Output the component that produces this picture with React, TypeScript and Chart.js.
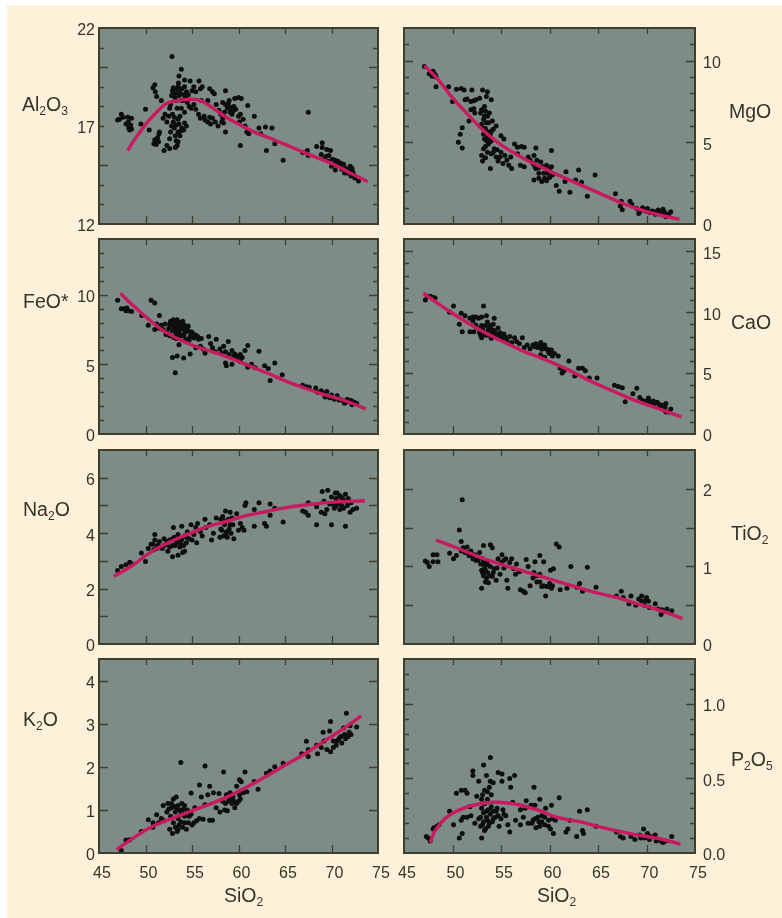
import React, { useEffect, useRef } from "react";
import { Chart, registerables } from "chart.js";

Chart.register(...registerables);

type P = number[];

const xTicks = [45, 50, 55, 60, 65, 70, 75];

const al2o3Points: P[] = [[47,17.3],[47.2,17.35],[47.4,17.6],[47.6,17.45],[47.9,17.1],[48.1,17.45],[48.15,17.2],[48.2,16.9],[48.3,16.8],[48.4,17.05],[48.5,17.4],[48.5,16.85],[49.5,17.1],[50,17.85],[50.4,16.8],[50.8,18.95],[51,19.1],[51.05,18.75],[51.2,18.5],[51.7,18.3],[50.9,16.1],[51,16.3],[51.15,16.05],[51.3,16.4],[51.45,16.6],[51.1,16.25],[51.4,16.2],[51.5,16.7],[51.9,17.4],[52.1,17.6],[52.3,17.2],[52.3,16],[52,15.75],[52.6,15.85],[52.7,16.7],[52.8,17],[52.5,17.5],[52.6,17.9],[52.7,18.1],[52.9,17.6],[53,17.2],[53.1,16.9],[53.2,16.5],[53.2,15.9],[53.4,16],[53.5,16.2],[53.5,16.7],[53.6,17.1],[53.7,17.5],[53.4,17.9],[53.3,18.3],[52.9,18.8],[53,18.95],[53.2,18.7],[53.4,18.9],[53.5,19],[53.7,18.7],[53.9,18.9],[54.1,18.6],[54.2,19],[53.85,17.9],[54.1,18.3],[54.2,17.7],[53.9,16.9],[54.1,16.8],[54.4,17],[53.7,16.5],[54.4,18.75],[54.5,18.2],[54.7,18],[54.8,19.3],[55,18.8],[55.2,19],[55.4,18.75],[55.75,19.3],[55.9,18.9],[56.1,19],[54.9,17.9],[55.2,18.1],[55.4,17.85],[55.7,17.6],[55.9,17.4],[56,18.3],[56.4,17.3],[56.7,17.2],[57,17.1],[57.2,17.4],[57.5,17.2],[57.8,17],[53.6,19.55],[53.85,19.9],[52.85,20.55],[54.2,19.35],[53.55,19.2],[56.9,18.9],[57.2,18.75],[57.4,18.65],[56.7,18.3],[57.6,18.1],[57.9,17.8],[58.1,17.6],[58.3,17.4],[58.4,17.15],[58.6,16.7],[58.2,17.2],[58.6,18.8],[58.3,18.2],[58.6,18.1],[58.8,17.9],[59,18.3],[59.2,17.95],[59.4,17.75],[59.6,18.4],[60,18.45],[60.3,18.4],[59.3,17.6],[59.7,17.85],[60,17.5],[60.2,17.6],[60.5,17.35],[60.7,17],[60.9,16.7],[61.1,16.6],[61,18.05],[61.7,17.5],[60.2,16],[63,15.75],[64.8,15.25],[67.5,17.7],[62.2,16.9],[62.9,16.95],[63.6,16.9],[62.4,16.6],[63.9,16.1],[66.9,15.65],[67.4,15.75],[67.5,15.5],[68.4,15.95],[69,16.15],[69,15.9],[69.5,15.8],[69.9,15.75],[68.9,15.55],[69.2,15.3],[69.4,15.45],[69.7,15.2],[70,14.95],[70.1,15.3],[70.4,15.25],[70.7,15.2],[71,15.1],[71.3,15.05],[70.6,15],[71.1,14.8],[71.5,14.85],[72,14.95],[72.2,14.85],[72.3,14.65],[72.1,14.45],[72.5,14.35],[72.9,14.2],[71.7,14.6],[70.4,14.75]];
const al2o3Dense: P[] = [[52.8,18.55],[53.15,18.45],[53.6,18.55],[53.9,18.3],[54.3,18.5],[54.6,18.6],[53.1,17.45],[53.3,17.05],[53.5,17.35],[53.8,16.75],[54.2,17.15],[53.3,16.25],[52.6,16.35],[58.9,18.15],[59.1,17.7],[59.5,18],[58.5,17.7],[60.1,17.2],[69.7,15.5],[70.3,15.05],[70.9,15],[71.4,14.6],[71.9,14.75],[72.4,14.5],[56.3,17.5],[56.9,17.45]];
const al2o3Curve: P[] = [[48.1,15.75],[48.6,16.15],[49.2,16.55],[49.8,16.95],[50.4,17.3],[51.3,17.75],[52.2,18.13],[53.4,18.3],[54.7,18.36],[55.7,18.33],[56.5,18.15],[57.6,17.8],[58.5,17.5],[59.4,17.25],[60.6,16.95],[61.9,16.65],[63.3,16.4],[64.8,16.1],[67.3,15.6],[70.2,15.05],[72,14.6],[73.9,14.16]];

const mgoPoints: P[] = [[47.1,9.65],[47.6,9.2],[48,9.35],[48.3,9],[48.3,8.4],[49.6,8.4],[50,7.5],[50.4,8.25],[50.9,8.3],[51.2,8.2],[52,8.2],[53.1,8.2],[53.6,8.1],[51.3,7.6],[51.9,7.5],[52.8,7.7],[53.5,7.8],[54,7.6],[53.3,7.2],[51.9,7],[52.3,6.8],[51.7,6.3],[52.9,6.8],[51,5.9],[50.8,5.5],[50.6,5],[51,4.65],[51.5,7.65],[52.2,7.05],[53,7],[53.4,6.9],[53.6,6.6],[53.2,6.4],[53,6.1],[53.7,6.2],[54.1,6.3],[54.5,6],[53.1,5.9],[53.2,5.5],[53.3,5.2],[53.5,5.7],[53.6,5.3],[53.7,4.9],[53.9,5.5],[54,5.1],[54.2,5.8],[53.2,4.6],[53,4.2],[53.1,3.85],[53.4,4.05],[53.6,4.4],[53.9,3.4],[54,4.3],[54.3,4.6],[54.5,4.1],[54.7,3.85],[55,4.4],[55,5.4],[55.3,5.2],[55.4,4.2],[55.6,3.9],[55.8,3.6],[56.1,3.4],[56,4.1],[56.4,4.9],[56.7,4.7],[57.1,4.75],[57.4,4.7],[56.7,4.3],[57,3.6],[57.4,3.5],[57.8,4.1],[58,3.9],[58.6,4.65],[58.4,4.2],[58.7,3.9],[58.3,3.7],[58.6,3.4],[58.9,3.1],[58.4,2.7],[58.9,2.8],[59.2,2.6],[59.5,2.8],[59.8,3.1],[60,3.4],[60.2,3.5],[60.2,4.5],[60.3,3],[59.7,3.6],[59.3,3.5],[59.1,3.8],[60.7,2.35],[61,2],[61.6,2.6],[61.7,3.2],[62.1,1.95],[63,3.3],[62.7,2.7],[63.3,2.55],[63.9,1.7],[64.7,3],[66.8,1.85],[67.4,1.4],[67.3,1.1],[67.5,0.88],[68.3,1.4],[68.5,1.2],[69,0.95],[69.3,0.75],[69.6,1],[69.9,0.8],[70.1,0.95],[70.4,0.7],[70.6,0.8],[70.9,0.6],[71.2,0.85],[71.5,0.75],[71.7,0.9],[71.8,0.55],[72,0.45],[72.3,0.6],[72.5,0.75]];
const mgoDense: P[] = [[53.4,5.85],[53.5,5.1],[53.7,5.6],[53.8,5.3],[53.9,5.05],[54,5.7],[53.3,6.6],[53.5,6.2],[53.8,6.8],[53.4,4.75],[54.2,4.4],[54.6,4.55],[54.9,4.1],[55.2,3.7],[58.5,3.5],[58.9,3.45],[59.4,3.1],[59.7,2.65],[60,2.85],[48.2,9.15],[47.9,9.05],[52.4,7.6],[52.2,7.55],[69.2,0.65],[70.2,0.75],[71,0.75],[71.9,0.7]];
const mgoCurve: P[] = [[47.1,9.7],[48.5,8.85],[49.9,7.8],[51.6,6.7],[53.3,5.66],[55,4.85],[57.4,4],[59.8,3.3],[62.6,2.55],[65,1.92],[67,1.4],[69.1,0.92],[71.1,0.58],[73.4,0.3]];

const feoPoints: P[] = [[47,9.6],[47.4,9],[47.7,9],[48,9.05],[48.2,8.85],[48.5,8.8],[47.9,8.85],[49.6,8.5],[50.3,7.8],[50.6,9.6],[51,9.4],[51.5,8.5],[51,7.5],[51.2,7.9],[51.5,7.6],[51.7,7.8],[51.9,7.5],[52.1,7.9],[52.3,7.3],[52.5,7.6],[52.7,8.1],[52.8,7.8],[52.9,7.4],[53,8.2],[53.1,7.6],[53.2,7.9],[53.3,7.2],[53.4,8.2],[53.5,7.7],[53.6,8],[53.6,7.4],[53.8,7.8],[53.9,7.1],[54,8.1],[54.1,7.5],[54.2,7.8],[54.3,7.3],[54.5,7.5],[54.6,7.75],[54.8,7],[55,7.3],[55.2,6.9],[55.4,7.1],[55.7,6.8],[56,6.85],[52.9,5.5],[53.4,5.6],[54.1,5.45],[54.8,5.75],[53.2,4.4],[53.6,6.4],[54.2,6.7],[55.4,6.2],[55.9,6.3],[56.2,6.1],[56.8,7],[56.4,5.8],[57,6.5],[57.2,6.2],[57.6,6.8],[57.5,5.9],[58,6.1],[58.4,6.3],[58.9,6.65],[58.6,5.9],[59,5.7],[59.3,6],[59.5,5.6],[59.8,5.4],[60,5.6],[60.4,5.5],[60.2,5.2],[60.7,6],[61,6.35],[62.2,5.95],[61.4,5],[58.7,4.9],[59.3,5],[58.6,5.1],[61.8,4.75],[61,4.8],[62.8,4.9],[63.2,4.7],[63.4,3.85],[63.9,5.1],[64.7,4.25],[66.9,3.5],[67.3,3.4],[67.6,3.35],[68.3,3.3],[68.5,3],[68.9,3.1],[69.2,2.9],[69.5,3.05],[69.8,2.6],[70,2.8],[70.3,2.5],[70.6,2.75],[70.8,2.45],[71.2,2.4],[71.4,2.2],[71.7,2.5],[72,2.3],[72.2,2.1],[72.4,2.3],[72.7,2.2]];
const feoDense: P[] = [[52.2,7.15],[52.6,7.05],[53,6.95],[53.3,6.85],[53.7,7],[54.1,7.05],[54.4,6.8],[53.2,7.45],[53.6,7.15],[53.9,7.6],[54.4,7.65],[54.8,7.35],[55.1,7.15],[55.6,7.0],[52.6,7.9],[53.3,8.05],[54.7,6.75],[59.6,5.75],[59.9,5.55],[60.2,5.7],[58.2,5.8],[69.3,2.65],[70.1,2.6],[70.9,2.5],[71.6,2.3],[72.1,2.4]];
const feoCurve: P[] = [[47.3,10.1],[48.7,9.2],[50.4,8.2],[52.2,7.3],[54.4,6.55],[56.5,6.05],[58.7,5.55],[60.8,5],[63,4.4],[65.1,3.8],[67.3,3.25],[69.4,2.8],[71.6,2.35],[73.7,1.8]];

const caoPoints: P[] = [[47.2,11],[47.7,11.3],[48.2,11.15],[47.4,11.3],[48,11.2],[50.1,10.5],[49.7,10],[50.7,9],[51,8.4],[51.8,8.4],[50.9,9.9],[51.3,9.7],[51.8,9.5],[52.1,9.3],[52.4,9.6],[52.7,9.5],[53,9.6],[53.2,10.5],[53.5,9.7],[54.3,9.5],[52.2,8.4],[52.6,8.7],[52.8,8.3],[53,7.9],[53,8.9],[53.2,8.4],[53.4,8.9],[53.5,8.1],[53.6,9.2],[53.7,8.6],[53.9,8.9],[54,7.85],[54.1,8.3],[54.2,9],[54.3,8.5],[54.5,8.1],[54.7,8.7],[54.9,8.3],[55.1,7.9],[55.3,8.2],[55.6,7.7],[55.9,8],[56.1,7.5],[56.4,7.9],[56.6,7.6],[56.9,7.4],[57.2,7.9],[57.4,7.1],[57.7,7.3],[58,7],[58.3,7.3],[58.6,7.4],[58.8,7.1],[59.1,7.5],[59.3,7.2],[59.6,7],[59.9,6.7],[60.2,6.9],[60.5,6.6],[60.9,6.4],[59.5,6.3],[59.1,6.5],[61.1,5.4],[61.3,5],[61.5,5.2],[62,6],[62.6,4.75],[63,5.4],[63.4,5.4],[63.7,5.2],[64.1,4.6],[64.9,4.6],[66.7,4],[67.1,3.9],[67.5,3.8],[67.8,2.65],[68.6,3.3],[69,3.75],[69.3,3],[69.6,2.75],[70,2.7],[70.2,2.95],[70.5,2.6],[70.8,2.5],[71.1,2.6],[71.4,2.3],[71.6,2.35],[72,2.5],[72,1.8],[72.3,1.8],[72.5,2.05]];
const caoDense: P[] = [[52.9,8.1],[53.1,8.6],[53.3,8.15],[53.6,8.35],[53.8,8.1],[54,8.6],[54.2,8.05],[54.4,8.35],[54.6,7.9],[54.8,8.05],[55,8.1],[55.4,7.95],[59,7.2],[59.2,6.95],[59.5,7.3],[59.8,6.95],[60,6.6],[60.3,6.4],[58.5,7.15],[70.3,2.65],[70.7,2.7],[71.3,2.45],[71.9,2.2],[52.4,8.95],[52.1,9.6]];
const caoCurve: P[] = [[47,11.55],[48.7,10.6],[50.4,9.7],[52.8,8.55],[54.9,7.7],[57.3,6.8],[59.7,6.05],[62.1,5.2],[64.2,4.35],[66.9,3.4],[69,2.7],[71,2.15],[73.6,1.4]];

const na2oPoints: P[] = [[47,2.65],[47.4,2.8],[47.9,2.86],[48.3,2.95],[48.5,2.9],[49.55,3.28],[50,2.98],[50.3,3.45],[50.6,3.6],[50.9,3.4],[51,3.95],[51,3.75],[51.3,3.55],[51.5,3.7],[51.8,3.45],[52,3.8],[52.2,3.6],[52.4,3.35],[52.6,3.75],[52.9,3.15],[52.9,3.55],[53,4.2],[53.1,3.85],[53.3,3.65],[53.5,3.2],[53.5,3.95],[53.7,3.5],[53.9,4.25],[53.9,3.75],[54,3.3],[54.2,3.9],[54.2,3.35],[54.4,3.65],[54.5,4.05],[54.9,4.3],[55,3.75],[55.2,3.95],[55.4,4.2],[55.5,3.65],[55.6,4.35],[55.9,4.05],[56.1,3.9],[56.4,4.5],[56.5,4.2],[56.9,4.3],[57.1,3.75],[57.3,4],[57.6,4.55],[58,3.85],[58.1,4.15],[58.3,4.6],[58.4,3.9],[58.5,4.3],[58.6,4.8],[58.7,4.05],[58.8,3.85],[58.9,4.5],[59,4.15],[59.1,4.75],[59.2,4],[59.5,3.8],[59.4,4.3],[59.8,4.7],[60,4.1],[60.2,4.35],[60.4,4.2],[60.6,4.1],[60.8,5.1],[60.7,5],[61.7,4.85],[62.2,5.1],[61.7,4.25],[62.8,4.35],[63,4.25],[63.4,5.05],[63.9,4.9],[63.4,4.65],[64.8,4.4],[66.9,4.8],[67.2,4.75],[67.5,4.65],[67.5,5.1],[68.4,4.3],[68.4,4.95],[68.9,4.75],[69,5.5],[69.2,5.15],[69.3,4.7],[69.5,4.85],[69.6,5.55],[69.8,5.05],[70,4.3],[70,5.3],[70.1,5.05],[70.3,4.9],[70.4,5.45],[70.5,5.25],[70.6,5.45],[70.7,5.05],[70.9,4.85],[71,5.3],[71.1,5],[71.3,4.9],[71.5,4.25],[71.5,5.4],[71.7,5],[71.8,5.25],[72,4.75],[72.1,5.1],[72.3,4.85],[72.7,4.9]];
const na2oDense: P[] = [[50.8,3.6],[51.2,3.45],[51.6,3.5],[52,3.55],[52.3,3.7],[52.6,3.5],[52.9,3.8],[53.2,3.55],[53.5,3.7],[53.8,3.6],[54.1,3.55],[54.4,3.85],[54.7,3.8],[58.2,4.1],[58.4,4.45],[58.6,3.95],[58.9,4.05],[59.1,4.3],[59.3,4.55],[58.1,4.5],[70.5,5],[70.8,5.1],[71.2,5.25],[70.9,5.35],[71.6,5.15]];
const na2oCurve: P[] = [[46.6,2.44],[48.7,2.86],[50.4,3.28],[52.2,3.62],[54.4,3.94],[56.5,4.22],[58.7,4.42],[60.8,4.63],[63,4.78],[65.1,4.92],[67.3,5.02],[70.2,5.12],[73.6,5.17]];

const tio2Points: P[] = [[47.2,1.07],[47.6,1],[47.4,1.05],[48,1.15],[48.4,1.15],[48,1.06],[48.5,1.06],[49.7,1.17],[50.1,1.1],[50.4,1.14],[51,1.86],[50.7,1.47],[50.9,1.32],[50.9,1.2],[51.1,1.24],[51.3,1.18],[51.5,1.25],[51.7,1.14],[51.9,1.2],[52.1,1.1],[52.3,1.15],[52.6,1.08],[52.8,1.18],[52.9,1.03],[53,0.95],[53,0.72],[53.1,1.1],[53.2,0.88],[53.3,1],[53.4,0.8],[53.5,1.06],[53.6,0.92],[53.7,0.79],[53.2,1.27],[53.9,1.28],[53.9,1],[54.1,1.24],[54.1,0.87],[54.3,0.97],[54.5,0.82],[54.7,1.1],[54.9,0.9],[55.1,1.15],[55.3,0.98],[55.5,1.1],[55.6,0.82],[55.7,0.72],[55.9,1.05],[56.1,1.1],[56.3,0.97],[56.6,1.03],[56.9,0.93],[57,0.7],[57.3,0.68],[57.5,0.66],[57.6,1.09],[57.8,1],[58,0.75],[58.3,0.85],[58.5,1.06],[58.7,0.8],[59,1.14],[59,0.9],[59.2,0.74],[59.4,1.06],[59.6,0.62],[59.7,0.74],[60,0.78],[60.1,0.95],[60.3,0.75],[60.4,0.97],[60.7,1.29],[61,1.25],[61.1,0.7],[61.8,0.72],[62.2,1],[62.8,0.73],[63.1,0.78],[63.4,0.68],[63.9,0.99],[64.8,0.73],[66.9,0.62],[67.4,0.68],[67.6,0.6],[68.2,0.52],[68.4,0.62],[68.9,0.5],[69.2,0.58],[69.5,0.62],[69.8,0.5],[70,0.6],[70.3,0.47],[70.9,0.52],[71.2,0.45],[71.5,0.38],[71.8,0.42],[72.1,0.45],[72.6,0.43]];
const tio2Dense: P[] = [[51.2,1.2],[51.6,1.18],[52,1.15],[52.4,1.08],[53.2,1.05],[53.4,0.95],[53.6,1.02],[53.5,0.85],[53.8,0.88],[53.1,0.92],[54.2,0.92],[54.6,0.98],[55,1.05],[55.3,1.08],[56.5,0.9],[58.4,0.92],[58.7,0.88],[59,0.8],[59.4,0.75],[59.9,0.74],[60.2,0.72],[69.5,0.55],[69.9,0.56],[70.2,0.55],[71.6,0.44]];
const tio2Curve: P[] = [[48.3,1.34],[50.4,1.24],[52.8,1.12],[55.2,1.02],[57.3,0.94],[59.7,0.85],[62.1,0.76],[64.2,0.68],[66.9,0.6],[69,0.52],[71,0.45],[73.7,0.33]];

const k2oPoints: P[] = [[47.4,0.06],[47.9,0.3],[48.3,0.31],[49.55,0.5],[50.3,0.77],[50.8,0.7],[51.2,0.89],[50.8,0.6],[51.4,0.7],[51.7,0.8],[51.9,1.1],[52,0.75],[52.3,0.95],[52.4,1.15],[52.6,0.55],[52.7,0.85],[52.8,1.05],[52.9,0.45],[53,1.25],[53,0.7],[53.2,0.95],[53.3,1.3],[53.4,0.5],[53.5,0.8],[53.5,1.1],[53.6,0.65],[53.8,2.1],[53.8,0.9],[53.9,1.15],[54,0.6],[54.1,1.02],[54.2,0.85],[54.4,0.55],[54.5,1],[54.6,0.7],[54.9,1.39],[54.9,0.9],[55,0.65],[55.3,1.05],[55.5,0.75],[55.8,1.58],[55.8,0.8],[56,1.3],[56.2,0.78],[56.4,2.02],[56.4,1.12],[56.7,1.35],[56.9,1.55],[56.9,0.76],[57.2,0.76],[57.3,1.4],[57.6,1.05],[57.9,1.38],[58,0.95],[58.4,1.88],[58.3,1.2],[58.5,1],[58.7,1.35],[58.8,0.98],[58.9,1.2],[59.1,1.4],[59.3,1.15],[59.4,1.3],[59.6,1.05],[59.8,1.55],[60,1.2],[60.1,1.7],[60.2,1.25],[60.3,1.65],[60.5,1.4],[60.7,1.88],[60.9,1.42],[61.7,1.66],[62.1,1.48],[63,1.85],[63.4,1.9],[63.9,2],[64.8,2.08],[66.8,2.3],[67.3,2.59],[67.5,2.24],[67.5,2.4],[68.4,2.5],[68.5,2.3],[68.9,2.45],[69.1,2.8],[69.2,2.6],[69.5,2.4],[69.8,2.83],[69.9,3.05],[69.9,2.35],[70.2,2.6],[70.5,2.5],[70.8,2.65],[71.1,2.55],[71.3,2.9],[71.6,3.24],[71.5,2.65],[71.8,2.7],[72,2.95],[72.1,2.75],[72.7,2.92]];
const k2oDense: P[] = [[52.5,1.02],[52.8,1.15],[53.1,1.08],[53.4,1.02],[53.7,1],[53.9,0.95],[54.2,1.1],[53.2,0.6],[53.5,0.55],[53.8,0.72],[54.2,0.7],[54.7,0.85],[55.2,0.7],[58.6,1.15],[58.9,1.3],[59.2,1.25],[59.5,1.2],[59.8,1.15],[60.1,1.35],[70.6,2.6],[71,2.7],[71.4,2.75],[70.2,2.45],[71.9,2.8]];
const k2oCurve: P[] = [[46.9,0.08],[48.7,0.35],[50.4,0.58],[52.2,0.75],[54.4,0.93],[56.5,1.1],[58.7,1.29],[60.8,1.52],[63,1.78],[65.1,2.05],[67.3,2.32],[69.4,2.62],[71.6,2.93],[73.2,3.18]];

const p2o5Points: P[] = [[47.3,0.11],[47.5,0.1],[47.7,0.08],[48,0.16],[48.4,0.18],[48.1,0.17],[48.6,0.19],[49.7,0.28],[50.1,0.19],[50.7,0.1],[51,0.13],[50.9,0.22],[51.1,0.24],[50.4,0.4],[50.9,0.42],[51.3,0.42],[51.5,0.4],[51.5,0.24],[51.8,0.31],[51.9,0.25],[52.1,0.55],[52.1,0.52],[52.3,0.2],[52.5,0.38],[52.7,0.48],[52.7,0.23],[52.9,0.18],[53,0.1],[53,0.3],[53.1,0.39],[53.2,0.59],[53.2,0.21],[53.3,0.42],[53.4,0.16],[53.5,0.52],[53.5,0.28],[53.6,0.36],[53.6,0.22],[53.7,0.18],[53.8,0.44],[53.9,0.64],[53.9,0.48],[53.9,0.26],[54,0.39],[54.1,0.21],[54.2,0.47],[54.2,0.28],[54.4,0.24],[54.6,0.3],[54.7,0.54],[54.8,0.18],[55,0.23],[55.1,0.53],[55.1,0.48],[55.2,0.29],[55.5,0.25],[55.7,0.19],[55.9,0.5],[55.9,0.14],[56,0.44],[56.2,0.34],[56.4,0.52],[56.5,0.22],[57,0.29],[57,0.19],[57.3,0.24],[57.5,0.3],[57.6,0.35],[57.8,0.2],[58.1,0.32],[58.3,0.22],[58.4,0.44],[58.5,0.32],[58.6,0.17],[58.8,0.24],[59,0.36],[59,0.18],[59.2,0.21],[59.5,0.24],[59.6,0.3],[59.9,0.22],[60.2,0.32],[60.1,0.16],[60.4,0.13],[60.6,0.22],[61,0.37],[61.7,0.14],[61.9,0.16],[62.1,0.22],[62.8,0.11],[63.1,0.28],[63.4,0.15],[63.5,0.13],[63.9,0.29],[64.8,0.18],[66.9,0.14],[67.3,0.11],[67.6,0.1],[68.4,0.11],[68.8,0.09],[69.3,0.12],[69.7,0.16],[69.8,0.1],[70.1,0.13],[70.4,0.11],[70.9,0.12],[71,0.08],[71.3,0.09],[71.7,0.07],[72,0.08],[72.6,0.11]];
const p2o5Dense: P[] = [[52.9,0.24],[53.1,0.19],[53.2,0.27],[53.3,0.15],[53.5,0.24],[53.7,0.29],[53.8,0.2],[53,0.36],[53.3,0.33],[53.6,0.41],[54,0.31],[54.2,0.23],[54.5,0.28],[54.7,0.25],[55.3,0.26],[58.2,0.2],[58.5,0.23],[58.9,0.21],[59.2,0.25],[59.5,0.19],[59.9,0.18],[60.3,0.23],[69.4,0.1],[70.3,0.09],[71.5,0.08]];
const p2o5Curve: P[] = [[47.7,0.07],[48.2,0.15],[49.2,0.23],[50.4,0.28],[52.1,0.32],[54.2,0.34],[56.3,0.33],[58.7,0.29],[60.7,0.24],[63.1,0.21],[65.5,0.17],[68.3,0.13],[71,0.1],[73.5,0.06]];

const panels = [
  { id: "al2o3", side: "left", px: 99, py: 28, pw: 279, ph: 196, yMax: 22, yMin: 12, labels: [12, 17, 22], minor: 1, major: [15, 20], points: [...al2o3Points, ...al2o3Dense], curve: al2o3Curve, xAxis: false, fmt: 0 },
  { id: "mgo", side: "right", px: 404, py: 28, pw: 291, ph: 196, yMax: 12, yMin: 0, labels: [0, 5, 10], minor: 1, major: [5, 10], points: [...mgoPoints, ...mgoDense], curve: mgoCurve, xAxis: false, fmt: 0 },
  { id: "feo", side: "left", px: 99, py: 239, pw: 279, ph: 195, yMax: 14, yMin: 0, labels: [0, 5, 10], minor: 1, major: [5, 10], points: [...feoPoints, ...feoDense], curve: feoCurve, xAxis: false, fmt: 0 },
  { id: "cao", side: "right", px: 404, py: 239, pw: 291, ph: 195, yMax: 16, yMin: 0, labels: [0, 5, 10, 15], minor: 1, major: [5, 10, 15], points: [...caoPoints, ...caoDense], curve: caoCurve, xAxis: false, fmt: 0 },
  { id: "na2o", side: "left", px: 99, py: 450, pw: 279, ph: 194, yMax: 7, yMin: 0, labels: [0, 2, 4, 6], minor: 1, major: [1, 2, 3, 4, 5, 6], points: [...na2oPoints, ...na2oDense], curve: na2oCurve, xAxis: false, fmt: 0 },
  { id: "tio2", side: "right", px: 404, py: 450, pw: 291, ph: 194, yMax: 2.5, yMin: 0, labels: [0, 1, 2], minor: 0.5, major: [0.5, 1, 1.5, 2], points: [...tio2Points, ...tio2Dense], curve: tio2Curve, xAxis: false, fmt: 0 },
  { id: "k2o", side: "left", px: 99, py: 659, pw: 279, ph: 194, yMax: 4.5, yMin: 0, labels: [0, 1, 2, 3, 4], minor: 1, major: [1, 2, 3, 4], points: [...k2oPoints, ...k2oDense], curve: k2oCurve, xAxis: true, fmt: 0 },
  { id: "p2o5", side: "right", px: 404, py: 659, pw: 291, ph: 194, yMax: 1.3, yMin: 0, labels: [0, 0.5, 1], minor: 0.1, major: [0.5, 1], points: [...p2o5Points, ...p2o5Dense], curve: p2o5Curve, xAxis: true, fmt: 1 },
];

const titles: { parts: (string | [string])[]; left: number; cy: number }[] = [
  { parts: ["Al", ["2"], "O", ["3"]], left: 22, cy: 105 },
  { parts: ["MgO"], left: 729, cy: 112 },
  { parts: ["FeO*"], left: 23, cy: 302 },
  { parts: ["CaO"], left: 731, cy: 323 },
  { parts: ["Na", ["2"], "O"], left: 23, cy: 510 },
  { parts: ["TiO", ["2"]], left: 731, cy: 534 },
  { parts: ["K", ["2"], "O"], left: 23, cy: 720 },
  { parts: ["P", ["2"], "O", ["5"]], left: 731, cy: 760 },
  { parts: ["SiO", ["2"]], left: 224, cy: 896 },
  { parts: ["SiO", ["2"]], left: 537, cy: 896 },
];

const FONT = "'Liberation Sans', Arial, sans-serif";
const INK = "#35342b";
const PANEL_BG = "#7d8c86";
const FRAME = "#3f3f30";
const CURVE = "#c9195f";
const M_SIDE = 52;
const M_VERT = 22;
const M_BOTTOM = 40;

const panelPlugin = (p: (typeof panels)[number]) => ({
  id: "panelFrame",
  beforeDatasetsDraw(chart: any) {
    const { ctx, chartArea: a } = chart;
    ctx.save();
    ctx.fillStyle = PANEL_BG;
    ctx.fillRect(a.left, a.top, a.right - a.left, a.bottom - a.top);
    ctx.restore();
  },
  afterDatasetsDraw(chart: any) {
    const { ctx, chartArea: a, scales } = chart;
    ctx.save();
    ctx.strokeStyle = FRAME;
    ctx.lineWidth = 1.3;
    ctx.beginPath();
    const steps = Math.round((p.yMax - p.yMin) / p.minor);
    for (let i = 1; i < steps; i++) {
      const v = p.yMin + i * p.minor;
      const isMajor = p.major.some((m) => Math.abs(m - v) < 1e-6);
      const len = isMajor ? 9 : 5;
      const y = Math.round(scales.y.getPixelForValue(v)) + 0.5;
      ctx.moveTo(a.left, y);
      ctx.lineTo(a.left + len, y);
      ctx.moveTo(a.right, y);
      ctx.lineTo(a.right - len, y);
    }
    for (const t of xTicks.slice(1, -1)) {
      const x = Math.round(scales.x.getPixelForValue(t)) + 0.5;
      ctx.moveTo(x, a.bottom);
      ctx.lineTo(x, a.bottom - 8);
      ctx.moveTo(x, a.top);
      ctx.lineTo(x, a.top + 6);
    }
    ctx.stroke();
    ctx.lineWidth = 2;
    ctx.strokeRect(a.left, a.top, a.right - a.left, a.bottom - a.top);
    ctx.restore();
  },
});

function Panel({ p }: { p: (typeof panels)[number] }) {
  const ref = useRef<HTMLCanvasElement>(null);
  const bottom = p.xAxis ? M_BOTTOM : M_VERT;
  useEffect(() => {
    const chart = new Chart(ref.current as HTMLCanvasElement, {
      type: "scatter",
      data: {
        datasets: [
          {
            label: "fit",
            data: p.curve.map(([x, y]) => ({ x, y })),
            showLine: true,
            borderColor: CURVE,
            borderWidth: 3.4,
            pointRadius: 0,
            tension: 0.4,
            order: 1,
          } as any,
          {
            label: "samples",
            data: p.points.map(([x, y]) => ({ x, y })),
            backgroundColor: "#0d0f0e",
            borderWidth: 0,
            pointRadius: 2.5,
            order: 2,
          } as any,
        ],
      },
      options: {
        animation: false,
        responsive: false,
        events: [],
        layout: {
          padding: {
            left: p.side === "left" ? 0 : M_SIDE,
            right: p.side === "left" ? M_SIDE : 0,
            top: M_VERT,
            bottom: p.xAxis ? 0 : M_VERT,
          },
        },
        plugins: { legend: { display: false }, tooltip: { enabled: false } },
        scales: {
          x: {
            type: "linear",
            display: p.xAxis,
            min: 45,
            max: 75,
            afterBuildTicks: (s: any) => {
              s.ticks = xTicks.map((value) => ({ value }));
            },
            afterFit: (s: any) => {
              s.height = p.xAxis ? M_BOTTOM : 0;
            },
            grid: { display: false, drawTicks: false },
            border: { display: false },
            ticks: {
              autoSkip: false,
              maxRotation: 0,
              minRotation: 0,
              padding: 11,
              labelOffset: 3,
              color: INK,
              font: { family: FONT, size: 16 },
              callback: (v: any) => String(v),
            },
          },
          y: {
            type: "linear",
            position: p.side as "left" | "right",
            min: p.yMin,
            max: p.yMax,
            afterBuildTicks: (s: any) => {
              s.ticks = p.labels.map((value) => ({ value }));
            },
            afterFit: (s: any) => {
              s.width = M_SIDE;
            },
            grid: { display: false, drawTicks: false },
            border: { display: false },
            ticks: {
              autoSkip: false,
              padding: p.side === "left" ? 4 : 8,
              labelOffset: 3,
              color: INK,
              font: { family: FONT, size: 16 },
              callback: (v: any) => (p.fmt ? Number(v).toFixed(p.fmt) : String(v)),
            },
          },
        },
      } as any,
      plugins: [panelPlugin(p)],
    });
    return () => chart.destroy();
  }, [p]);
  return (
    <canvas
      ref={ref}
      width={p.pw + 2 * M_SIDE}
      height={p.ph + M_VERT + bottom}
      style={{ position: "absolute", left: p.px - M_SIDE, top: p.py - M_VERT }}
    />
  );
}

export default function App() {
  return (
    <div style={{ position: "fixed", inset: 0, background: "#ffffff", overflow: "hidden" }}>
      <div style={{ position: "absolute", left: 7, top: 5, right: 0, bottom: 0, background: "#fdf1d9" }} />
      {panels.map((p) => (
        <Panel key={p.id} p={p} />
      ))}
      {titles.map((t, i) => (
        <div
          key={i}
          style={{
            position: "absolute",
            left: t.left,
            top: t.cy,
            transform: "translateY(-50%)",
            fontFamily: FONT,
            fontSize: 19.5,
            lineHeight: 1,
            color: INK,
            whiteSpace: "nowrap",
          }}
        >
          {t.parts.map((part, j) =>
            Array.isArray(part) ? (
              <sub key={j} style={{ fontSize: "0.62em", lineHeight: 0, verticalAlign: "-0.3em" }}>
                {part[0]}
              </sub>
            ) : (
              <span key={j}>{part}</span>
            )
          )}
        </div>
      ))}
    </div>
  );
}
